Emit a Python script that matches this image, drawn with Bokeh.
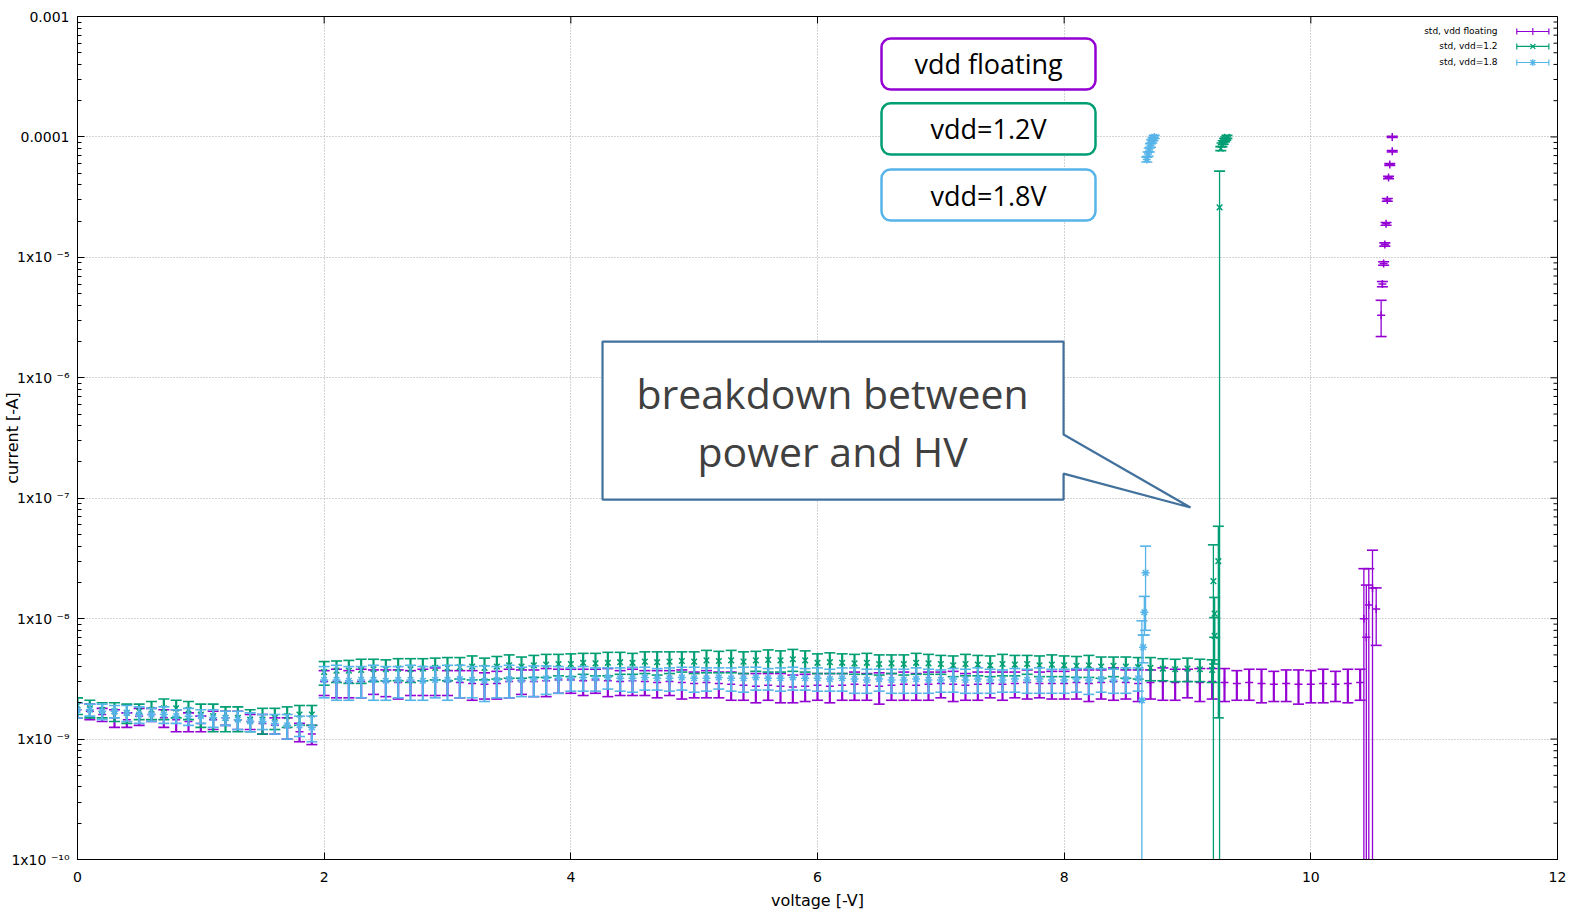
import numpy as np
from bokeh.plotting import figure
from bokeh.models import (Range1d, FixedTicker, CustomJSTickFormatter, BoxAnnotation, Label, ColumnDataSource)
from bokeh.embed import file_html
from bokeh.resources import INLINE

# ---------------- data (current in nA for the sweep, step 0.1 V) ----------------
SWEEP_STEP = 0.1

flt_mean = [1.75,1.70,1.60,1.50,1.45,1.55,1.60,1.50,1.45,1.40,1.35,1.45,1.50,1.45,1.40,1.35,1.30,1.25,1.15,1.10,
            3.00,3.00,2.95,3.00,3.05,3.00,2.95,3.00,3.05,3.10,3.00,2.95,2.90,2.85,2.90,3.00,3.05,3.00,3.05,3.10,
            3.10,3.05,3.10,3.05,3.00,3.05,3.00,2.95,3.00,2.95,2.90,2.95,2.90,2.85,2.80,2.75,2.80,2.75,2.70,2.75,
            2.80,2.75,2.80,2.85,2.80,2.75,2.80,2.85,2.80,2.85,2.90,2.85,2.80,2.85,2.90,2.85,2.90,2.95,2.90,2.90,
            2.90,2.95,2.90,2.95,3.00,2.95,2.90,2.95,3.00,2.95,3.00,2.95,3.00,2.95,2.90,2.95,2.90,2.85,2.90,2.85,
            2.85,2.90,2.85,2.90,2.95]
flt_std = [0.25,0.25,0.2,0.25,0.2,0.25,0.2,0.25,0.3,0.25,0.2,0.25,0.2,0.25,0.2,0.25,0.2,0.25,0.2,0.2,
           0.7,0.8,0.75,0.8,0.7,0.75,0.8,0.7,0.75,0.8,0.7,0.75,0.8,0.7,0.75,0.8,0.7,0.75,0.8,0.7,
           0.7,0.75,0.7,0.8,0.7,0.75,0.7,0.75,0.7,0.8,0.7,0.75,0.7,0.75,0.7,0.75,0.7,0.75,0.7,0.7,
           0.7,0.75,0.7,0.75,0.7,0.8,0.7,0.75,0.7,0.75,0.7,0.8,0.7,0.75,0.7,0.75,0.7,0.8,0.7,0.75,
           0.75,0.8,0.85,0.8,0.9,0.8,0.85,0.8,0.9,0.85,0.8,0.9,0.85,0.9,0.8,0.85,0.9,0.8,0.85,0.9,
           0.85,0.9,0.8,0.9,0.85]

v12_mean = [1.90,1.80,1.75,1.70,1.65,1.70,1.75,1.80,1.80,1.75,1.60,1.55,1.50,1.50,1.45,1.45,1.50,1.55,1.60,1.60,
            3.60,3.70,3.70,3.75,3.80,3.80,3.85,3.80,3.85,3.90,3.90,3.95,4.00,3.90,4.00,4.10,4.00,4.10,4.15,4.20,
            4.20,4.30,4.25,4.30,4.35,4.30,4.40,4.35,4.40,4.45,4.40,4.50,4.45,4.50,4.40,4.50,4.55,4.50,4.60,4.50,
            4.30,4.35,4.30,4.25,4.30,4.20,4.25,4.20,4.30,4.25,4.20,4.10,4.20,4.15,4.10,4.20,4.15,4.20,4.10,4.15,
            4.10,4.05,4.10,4.00,4.05,4.00,3.95,3.90,3.85,3.80,3.85,3.80,3.75]
v12_std = [0.3,0.3,0.25,0.3,0.3,0.25,0.3,0.35,0.3,0.3,0.35,0.4,0.35,0.35,0.3,0.35,0.3,0.3,0.3,0.3,
           0.8,0.75,0.8,0.85,0.8,0.75,0.8,0.85,0.8,0.8,0.85,0.8,0.9,0.8,0.85,0.9,0.8,0.85,0.9,0.85,
           0.9,0.85,0.9,0.95,0.9,0.85,0.9,0.95,0.9,0.85,0.9,0.95,0.9,0.95,0.9,0.85,0.95,0.9,0.95,0.9,
           0.8,0.85,0.8,0.8,0.85,0.8,0.75,0.8,0.85,0.8,0.75,0.8,0.85,0.8,0.8,0.85,0.8,0.75,0.8,0.85,
           0.8,0.8,0.85,0.8,0.75,0.8,0.8,0.85,0.8,0.8,0.85,0.8,0.8]

v18_mean = [1.75,1.75,1.70,1.70,1.65,1.60,1.60,1.60,1.55,1.55,1.55,1.50,1.50,1.45,1.40,1.40,1.35,1.30,1.30,1.25,
            3.10,3.10,3.05,3.10,3.10,3.05,3.10,3.10,3.05,3.10,3.10,3.15,3.10,3.05,3.10,3.15,3.10,3.15,3.20,3.20,
            3.20,3.25,3.20,3.25,3.20,3.20,3.25,3.20,3.20,3.25,3.20,3.20,3.25,3.20,3.20,3.25,3.20,3.20,3.25,3.20,
            3.20,3.15,3.20,3.15,3.10,3.15,3.10,3.10,3.15,3.10,3.10,3.15,3.10,3.15,3.10,3.10,3.15,3.10,3.15,3.10,
            3.10,3.15,3.10,3.15,3.10,3.15,3.20]
v18_std = [0.25,0.2,0.25,0.2,0.25,0.25,0.2,0.25,0.2,0.25,0.2,0.25,0.2,0.25,0.25,0.2,0.25,0.3,0.25,0.3,
           0.9,1.0,0.95,0.9,1.0,0.95,0.9,1.0,0.95,0.9,1.0,0.95,0.9,1.0,0.9,0.95,0.85,0.9,0.85,0.8,
           0.7,0.75,0.7,0.65,0.7,0.75,0.7,0.65,0.7,0.7,0.75,0.7,0.65,0.7,0.75,0.7,0.65,0.7,0.7,0.65,
           0.7,0.65,0.7,0.75,0.7,0.65,0.7,0.7,0.75,0.7,0.65,0.7,0.7,0.75,0.7,0.65,0.7,0.7,0.75,0.7,
           0.7,0.7,0.75,0.7,0.7,0.75,0.7]

# breakdown points (voltage in V, current and std in A)
flt_bd_v = [10.43, 10.45, 10.47, 10.50, 10.53, 10.57, 10.58, 10.59, 10.60, 10.61, 10.62, 10.63, 10.64, 10.66, 10.66]
flt_bd_i = [1.0e-8, 7.0e-9, 1.3e-8, 1.8e-8, 1.2e-8, 3.3e-6, 6.0e-6, 8.9e-6, 1.28e-5, 1.9e-5, 3.0e-5, 4.6e-5, 5.9e-5, 7.6e-5, 1.0e-4]
flt_bd_s = [1.6e-8, 1.2e-8, 1.3e-8, 1.9e-8, 6.0e-9, 1.1e-6, 3e-7, 3e-7, 4e-7, 5e-7, 8e-7, 1e-6, 1e-6, 1e-6, 1e-6]

v12_bd_v = [9.22, 9.22, 9.21, 9.25, 9.26, 9.27, 9.28, 9.29, 9.30, 9.31, 9.32]
v12_bd_i = [7.2e-9, 1.1e-8, 2.05e-8, 3.0e-8, 2.6e-5, 8.0e-5, 8.6e-5, 9.0e-5, 9.4e-5, 9.7e-5, 1.0e-4]
v12_bd_s = [3e-9, 4e-9, 2.05e-8, 2.85e-8, 2.6e-5, 3e-6, 3e-6, 3e-6, 3e-6, 3e-6, 3e-6]

v18_bd_v = [8.63, 8.64, 8.65, 8.66, 8.67, 8.68, 8.69, 8.70, 8.71, 8.72, 8.73]
v18_bd_i = [2.1e-9, 5.8e-9, 1.13e-8, 2.4e-8, 6.5e-5, 7.2e-5, 7.8e-5, 8.5e-5, 9.2e-5, 9.6e-5, 1.0e-4]
v18_bd_s = [7.5e-9, 1.5e-9, 4e-9, 1.6e-8, 3e-6, 3e-6, 3e-6, 3e-6, 3e-6, 3e-6, 3e-6]

series_names = ["std, vdd floating", "std, vdd=1.2", "std, vdd=1.8"]
box_texts = ["vdd floating", "vdd=1.2V", "vdd=1.8V"]
x_ticks = [0, 2, 4, 6, 8, 10, 12]
y_decades = [-10, -9, -8, -7, -6, -5, -4, -3]
callout_lines = ["breakdown between", "power and HV"]

PURPLE, GREEN, BLUE = "#9400D3", "#009E73", "#56B4E9"
FONT = "DejaVu Sans"
BAND_W, SPIKE_W = 2.2, 1.3


def build(mean_na, std_na, bd_v, bd_i, bd_s):
    v = np.round(np.arange(len(mean_na)) * SWEEP_STEP, 2)
    x = np.concatenate([v, bd_v])
    m = np.concatenate([np.array(mean_na) * 1e-9, bd_i])
    s = np.concatenate([np.array(std_na) * 1e-9, bd_s])
    w = [BAND_W] * len(mean_na) + [SPIKE_W] * len(bd_v)
    up = m + s
    lo = np.maximum(m - s, 1e-14)
    return ColumnDataSource(dict(x=x, y=m, up=up, lo=lo, w=w))


p = figure(width=1572, height=914, x_range=Range1d(0, 12), y_range=Range1d(1e-10, 1e-3),
           y_axis_type="log", output_backend="svg", toolbar_location=None,
           min_border_left=77, min_border_right=15, min_border_top=16, min_border_bottom=55,
           background_fill_color="white", border_fill_color="white")

p.outline_line_color = "black"
p.outline_line_width = 1
p.outline_line_alpha = 1

y_major = [10.0 ** e for e in y_decades]
y_minor = [k * 10.0 ** e for e in y_decades[:-1] for k in range(2, 10)]
xticker = FixedTicker(ticks=x_ticks, minor_ticks=[])
yticker = FixedTicker(ticks=y_major, minor_ticks=y_minor)

yfmt = CustomJSTickFormatter(code="""
const e = Math.round(Math.log10(tick));
if (e == -3) return "0.001";
if (e == -4) return "0.0001";
const sup = {"-":"\\u207b","0":"\\u2070","1":"\\u00b9","2":"\\u00b2","3":"\\u00b3","4":"\\u2074",
             "5":"\\u2075","6":"\\u2076","7":"\\u2077","8":"\\u2078","9":"\\u2079"};
let s = "";
for (const c of String(e)) s += sup[c];
return "1x10 " + s;
""")

for ax in [p.xaxis[0], p.yaxis[0]]:
    ax.major_tick_in = 7
    ax.major_tick_out = 0
    ax.minor_tick_in = 4
    ax.minor_tick_out = 0
    ax.major_tick_line_color = "black"
    ax.minor_tick_line_color = "black"
    ax.axis_line_color = "black"
    ax.major_label_text_font = FONT
    ax.major_label_text_font_size = "14px"
    ax.major_label_text_color = "black"
    ax.axis_label_text_font = FONT
    ax.axis_label_text_font_size = "16px"
    ax.axis_label_text_font_style = "normal"
    ax.axis_label_text_color = "black"

p.xaxis[0].major_label_standoff = 12
p.xaxis[0].ticker = xticker
p.xaxis[0].axis_label = "voltage [-V]"
p.xaxis[0].axis_label_standoff = 6

# the y title sits in the same column as the tick labels (between two ticks), as in the original
p.yaxis[0].major_label_standoff = 8
p.yaxis[0].ticker = yticker
p.yaxis[0].formatter = yfmt
p.yaxis[0].axis_label = "current [-A]"
p.yaxis[0].axis_label_standoff = -14

p.xgrid.ticker = xticker
p.ygrid.ticker = FixedTicker(ticks=y_major)
for g in [p.xgrid[0], p.ygrid[0]]:
    g.grid_line_color = "#a8a8a8"
    g.grid_line_dash = "1 2"
    g.grid_line_width = 1

# mirrored inward ticks on the top and right frame edges (half of each mark is clipped away)
p.scatter(x=x_ticks, y=[1e-3] * len(x_ticks), marker="dash", angle=np.pi / 2, size=14, line_color="black", line_width=1)
p.scatter(x=[12] * len(y_major), y=y_major, marker="dash", size=14, line_color="black", line_width=1)
p.scatter(x=[12] * len(y_minor), y=y_minor, marker="dash", size=8, line_color="black", line_width=1)

# ---------------- data series ----------------
srcs = [build(flt_mean, flt_std, flt_bd_v, flt_bd_i, flt_bd_s),
        build(v12_mean, v12_std, v12_bd_v, v12_bd_i, v12_bd_s),
        build(v18_mean, v18_std, v18_bd_v, v18_bd_i, v18_bd_s)]
colors = [PURPLE, GREEN, BLUE]
markers = ["cross", "x", "asterisk"]

for src, col, mk in zip(srcs, colors, markers):
    p.segment(x0="x", x1="x", y0="lo", y1="up", source=src, line_color=col, line_width="w")
    p.scatter(x="x", y="up", source=src, marker="dash", size=11, line_color=col, line_width=1.6)
    p.scatter(x="x", y="lo", source=src, marker="dash", size=11, line_color=col, line_width=1.6)
    p.scatter(x="x", y="y", source=src, marker=mk, size=8, line_color=col, line_width=1.5)

# ---------------- gnuplot key (top right) ----------------
key_y = [7.51e-4, 5.64e-4, 4.15e-4]
for name, col, mk, ky in zip(series_names, colors, markers, key_y):
    p.add_layout(Label(x=11.514, y=ky, text=name, text_align="right", text_baseline="middle",
                       text_font=FONT, text_font_size="9px", text_color="black"))
    p.segment(x0=[11.67], x1=[11.93], y0=[ky], y1=[ky], line_color=col, line_width=1.2)
    p.scatter(x=[11.67, 11.93], y=[ky, ky], marker="dash", angle=np.pi / 2, size=6,
              line_color=col, line_width=1.2)
    p.scatter(x=[11.80], y=[ky], marker=mk, size=7, line_color=col, line_width=1.2)

# ---------------- rounded boxes ----------------
box_tb = [(6.56e-4, 2.48e-4), (1.90e-4, 7.15e-5), (5.37e-5, 2.02e-5)]
for txt, col, (t, b) in zip(box_texts, colors, box_tb):
    p.add_layout(BoxAnnotation(left=6.519, right=8.254, top=t, bottom=b, fill_color="white", fill_alpha=1,
                               line_color=col, line_width=2.5, line_alpha=1, border_radius=9))
    p.add_layout(Label(x=7.387, y=float((t * b) ** 0.5), text=txt, text_align="center", text_baseline="middle",
                       text_font="Open Sans", text_font_size="27px", text_color="black"))

# ---------------- callout ----------------
p.patch(x=[4.257, 7.995, 7.995, 9.024, 7.995, 7.995, 4.257],
        y=[2.0e-6, 2.0e-6, 3.38e-7, 8.37e-8, 1.60e-7, 9.75e-8, 9.75e-8],
        fill_color="white", line_color="#41719C", line_width=2.2)
for txt, ly in zip(callout_lines, [7.41e-7, 2.49e-7]):
    p.add_layout(Label(x=6.122, y=ly, text=txt, text_align="center", text_baseline="middle",
                       text_font="Open Sans", text_font_size="41px", text_color="#404040"))

open("out.html", "w", encoding="utf-8").write(file_html(p, INLINE))
